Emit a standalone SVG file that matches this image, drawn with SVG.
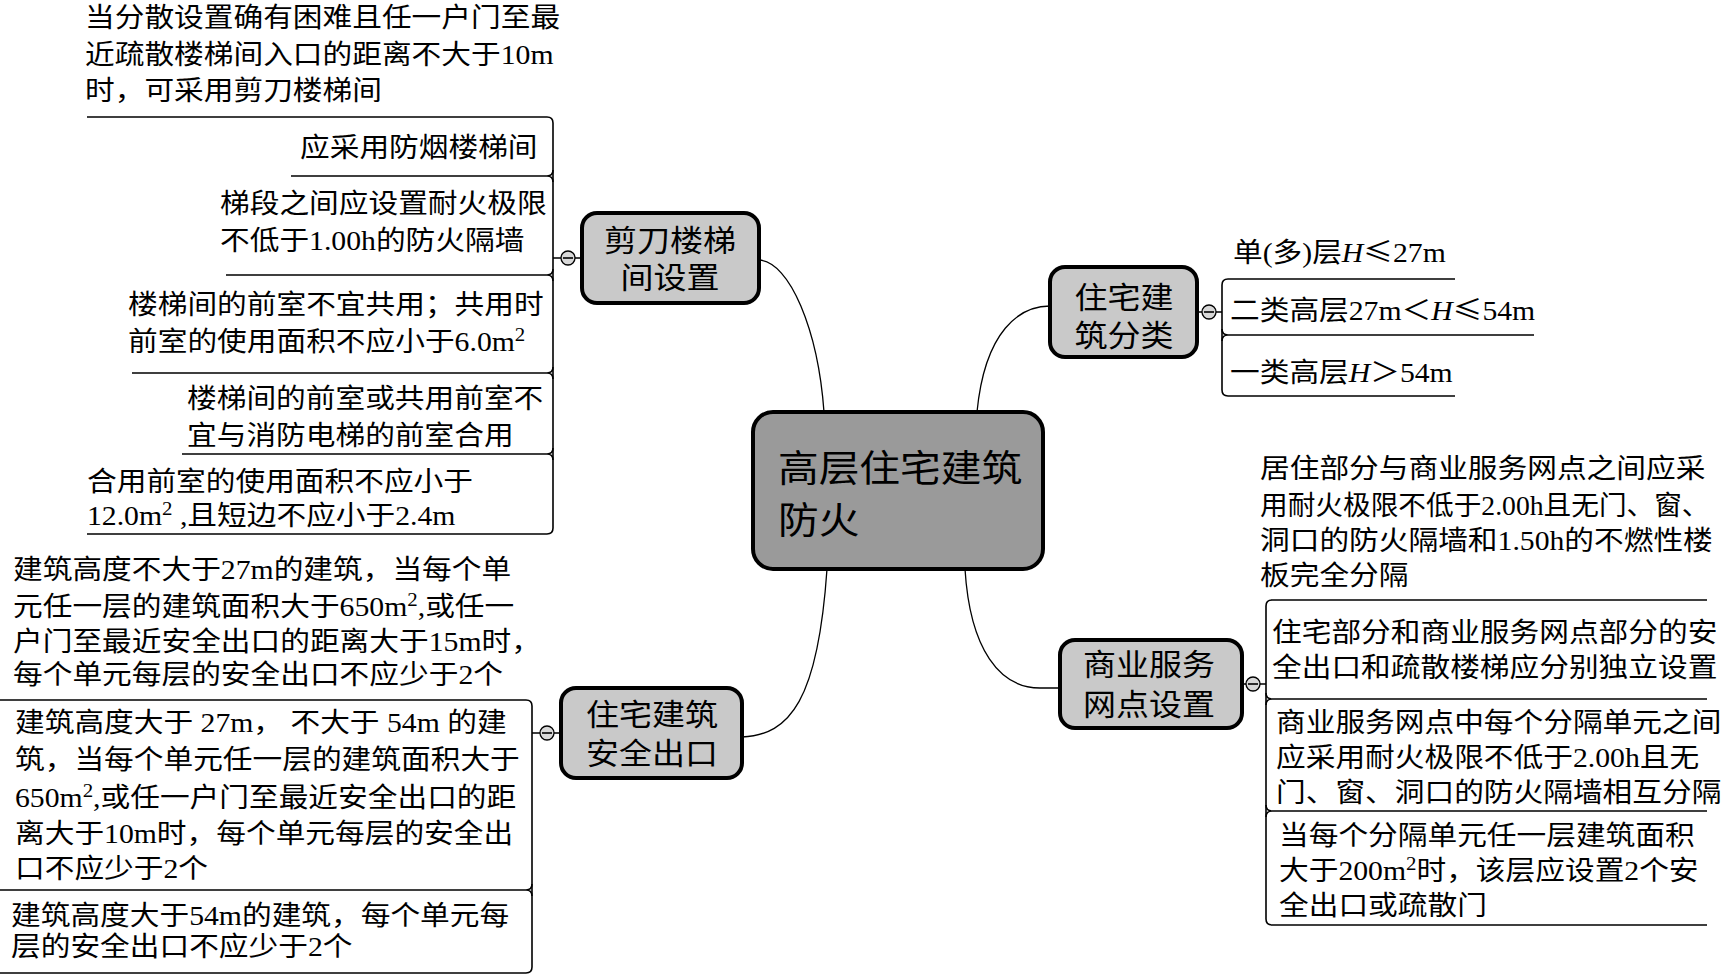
<svg xmlns="http://www.w3.org/2000/svg" width="1722" height="976" viewBox="0 0 1722 976">
<style>
text{font-family:"Liberation Serif","Noto Sans CJK SC",serif;fill:#000}
.t{font-size:27px}
.l{font-size:30px;text-anchor:middle}
.r{font-size:37px}
.sup{font-size:19px}
.cj{font-family:"Noto Sans CJK SC",sans-serif}
.ln{stroke:#000;stroke-width:1.6;fill:none}
.cv{stroke:#000;stroke-width:1.3;fill:none}
.box{stroke:#000;stroke-width:4;fill:#c9c9c9}
.root{stroke:#000;stroke-width:4;fill:#9a9a9a}
.col{stroke:#000;stroke-width:1.3;fill:#d8d8d8}
</style>
<rect width="1722" height="976" fill="#fff"/>
<g id="connectors">
<path class="cv" d="M759 260C790 262 818 330 824 412"/>
<path class="cv" d="M977 412C985 330 1020 306 1050 306"/>
<path class="cv" d="M827 569C818 700 790 735 742 737"/>
<path class="cv" d="M965 569C970 650 1000 688 1040 688L1060 688"/>
<path class="ln" d="M87 117H547Q553 117 553 123V528Q553 534 547 534H87"/>
<path class="ln" d="M291 176H547Q553 176 553 182M547 176Q553 176 553 170"/>
<path class="ln" d="M226 275H547Q553 275 553 281M547 275Q553 275 553 269"/>
<path class="ln" d="M132 373H547Q553 373 553 379M547 373Q553 373 553 367"/>
<path class="ln" d="M182 454H547Q553 454 553 460M547 454Q553 454 553 448"/>
<path class="ln" d="M553 258H561M575 258H582"/>
<path class="ln" d="M0 700H526Q532 700 532 706V967Q532 973 526 973H0"/>
<path class="ln" d="M0 890H526Q532 890 532 896M526 890Q532 890 532 884"/>
<path class="ln" d="M532 733H540M554 733H561"/>
<path class="ln" d="M1455 279H1228Q1222 279 1222 285V390Q1222 396 1228 396H1455"/>
<path class="ln" d="M1534 335H1228Q1222 335 1222 341M1228 335Q1222 335 1222 329"/>
<path class="ln" d="M1197 312H1202M1216 312H1222"/>
<path class="ln" d="M1707 600H1272Q1266 600 1266 606V919Q1266 925 1272 925H1707"/>
<path class="ln" d="M1707 699H1272Q1266 699 1266 705M1272 699Q1266 699 1266 693"/>
<path class="ln" d="M1707 811H1272Q1266 811 1266 817M1272 811Q1266 811 1266 805"/>
<path class="ln" d="M1242 684H1246M1260 684H1266"/>
<circle class="col" cx="568" cy="258" r="7"/><path class="ln" d="M563 258H573"/>
<circle class="col" cx="547" cy="733" r="7"/><path class="ln" d="M542 733H552"/>
<circle class="col" cx="1209" cy="312" r="7"/><path class="ln" d="M1204 312H1214"/>
<circle class="col" cx="1253" cy="684" r="7"/><path class="ln" d="M1248 684H1258"/>
</g>
<g id="root">
<rect class="root" x="753" y="412" width="290" height="157" rx="20"/>
<text class="r" transform="matrix(1.1 0 0 1 778 482)"><tspan x="0" y="0">高层住宅建筑</tspan><tspan x="0" y="52">防火</tspan></text>
</g>
<g id="n-jiandao">
<rect class="box" x="582" y="213" width="177" height="90" rx="15"/>
<text class="l" transform="matrix(1.1 0 0 1 670 251)"><tspan x="0" y="0">剪刀楼梯</tspan><tspan x="0" y="37">间设置</tspan></text>
</g>
<g id="n-fenlei">
<rect class="box" x="1050" y="267" width="147" height="90" rx="15"/>
<text class="l" transform="matrix(1.1 0 0 1 1124 308)"><tspan x="0" y="0">住宅建</tspan><tspan x="0" y="38">筑分类</tspan></text>
</g>
<g id="n-anquan">
<rect class="box" x="561" y="688" width="181" height="90" rx="15"/>
<text class="l" transform="matrix(1.1 0 0 1 652 725)"><tspan x="0" y="0">住宅建筑</tspan><tspan x="0" y="39">安全出口</tspan></text>
</g>
<g id="n-shangye">
<rect class="box" x="1060" y="640" width="182" height="88" rx="15"/>
<text class="l" transform="matrix(1.1 0 0 1 1149 675)"><tspan x="0" y="0">商业服务</tspan><tspan x="0" y="40">网点设置</tspan></text>
</g>
<g id="leaf-j1"><text class="t" transform="matrix(1.1 0 0 1 85 27)"><tspan x="0" y="0">当分散设置确有困难且任一户门至最</tspan><tspan x="0" y="37">近疏散楼梯间入口的距离不大于10m</tspan><tspan x="0" y="73">时，可采用剪刀楼梯间</tspan></text></g>
<g id="leaf-j2"><text class="t" transform="matrix(1.1 0 0 1 300 157)">应采用防烟楼梯间</text></g>
<g id="leaf-j3"><text class="t" transform="matrix(1.1 0 0 1 220 213)"><tspan x="0" y="0">梯段之间应设置耐火极限</tspan><tspan x="0" y="37">不低于1.00h的防火隔墙</tspan></text></g>
<g id="leaf-j4"><text class="t" transform="matrix(1.1 0 0 1 128 314)"><tspan x="0" y="0">楼梯间的前室不宜共用；共用时</tspan><tspan x="0" y="37">前室的使用面积不应小于6.0m<tspan class="sup" baseline-shift="super">2</tspan></tspan></text></g>
<g id="leaf-j5"><text class="t" transform="matrix(1.1 0 0 1 187 408)"><tspan x="0" y="0">楼梯间的前室或共用前室不</tspan><tspan x="0" y="37">宜与消防电梯的前室合用</tspan></text></g>
<g id="leaf-j6"><text class="t" transform="matrix(1.1 0 0 1 87 491)"><tspan x="0" y="0">合用前室的使用面积不应小于</tspan><tspan x="0" y="34">12.0m<tspan class="sup" baseline-shift="super">2</tspan> ,且短边不应小于2.4m</tspan></text></g>
<g id="leaf-a1"><text class="t" transform="matrix(1.1 0 0 1 13 579)"><tspan x="0" y="0">建筑高度不大于27m的建筑，当每个单</tspan><tspan x="0" y="37">元任一层的建筑面积大于650m<tspan class="sup" baseline-shift="super">2</tspan>,或任一</tspan><tspan x="0" y="72">户门至最近安全出口的距离大于15m时，</tspan><tspan x="0" y="105">每个单元每层的安全出口不应少于2个</tspan></text></g>
<g id="leaf-a2"><text class="t" transform="matrix(1.1 0 0 1 15 732)"><tspan x="0" y="0">建筑高度大于 27m， 不大于 54m 的建</tspan><tspan x="0" y="37">筑，当每个单元任一层的建筑面积大于</tspan><tspan x="0" y="75">650m<tspan class="sup" baseline-shift="super">2</tspan>,或任一户门至最近安全出口的距</tspan><tspan x="0" y="111">离大于10m时，每个单元每层的安全出</tspan><tspan x="0" y="146">口不应少于2个</tspan></text></g>
<g id="leaf-a3"><text class="t" transform="matrix(1.1 0 0 1 11 925)"><tspan x="0" y="0">建筑高度大于54m的建筑，每个单元每</tspan><tspan x="0" y="31">层的安全出口不应少于2个</tspan></text></g>
<g id="leaf-f1"><text class="t" transform="matrix(1.1 0 0 1 1233 262)">单(多)层<tspan font-style="italic">H</tspan><tspan class="cj">≤</tspan>27m</text></g>
<g id="leaf-f2"><text class="t" transform="matrix(1.1 0 0 1 1230 320)">二类高层27m＜<tspan font-style="italic">H</tspan><tspan class="cj">≤</tspan>54m</text></g>
<g id="leaf-f3"><text class="t" transform="matrix(1.1 0 0 1 1230 382)">一类高层<tspan font-style="italic">H</tspan>＞54m</text></g>
<g id="leaf-s1">
<text class="t" transform="matrix(1.1 0 0 1 1260 478)"><tspan x="0" y="0">居住部分与商业服务网点之间应采</tspan><tspan x="0" y="72">洞口的防火隔墙和1.50h的不燃性楼</tspan><tspan x="0" y="107">板完全分隔</tspan></text>
<text class="t" transform="matrix(1.025 0 0 1 1260 515)">用耐火极限不低于2.00h且无门、窗、</text>
</g>
<g id="leaf-s2"><text class="t" transform="matrix(1.1 0 0 1 1272 642)"><tspan x="0" y="0">住宅部分和商业服务网点部分的安</tspan><tspan x="0" y="35">全出口和疏散楼梯应分别独立设置</tspan></text></g>
<g id="leaf-s3"><text class="t" transform="matrix(1.1 0 0 1 1276 732)"><tspan x="0" y="0">商业服务网点中每个分隔单元之间</tspan><tspan x="0" y="35">应采用耐火极限不低于2.00h且无</tspan><tspan x="0" y="70">门、窗、洞口的防火隔墙相互分隔</tspan></text></g>
<g id="leaf-s4"><text class="t" transform="matrix(1.1 0 0 1 1279 845)"><tspan x="0" y="0">当每个分隔单元任一层建筑面积</tspan><tspan x="0" y="35">大于200m<tspan class="sup" baseline-shift="super">2</tspan>时，该层应设置2个安</tspan><tspan x="0" y="70">全出口或疏散门</tspan></text></g>
</svg>
